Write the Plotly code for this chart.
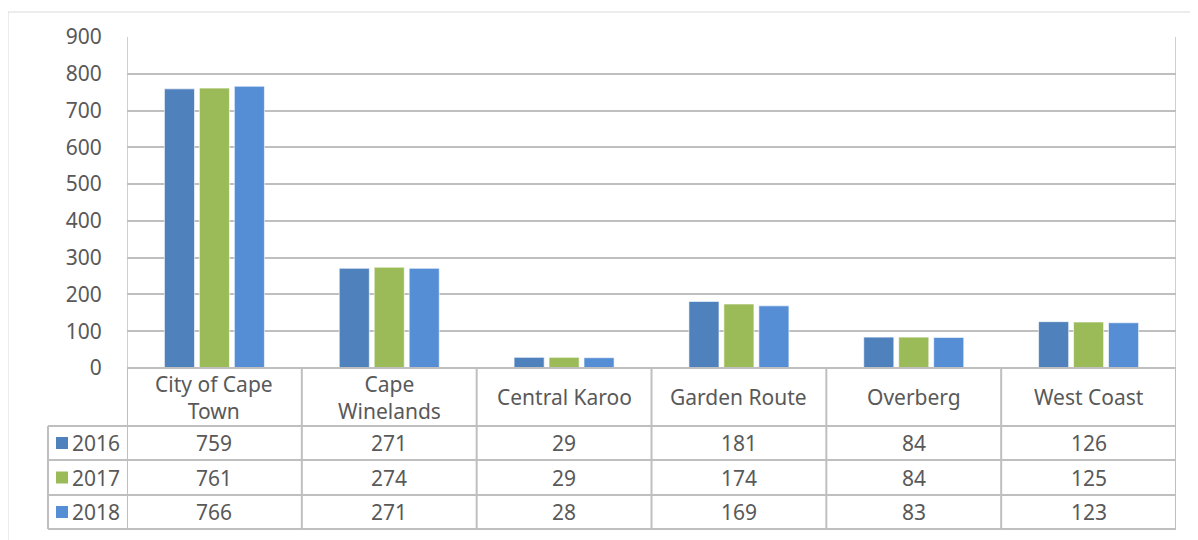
import plotly.graph_objects as go

regions = ["City of Cape Town", "Cape Winelands", "Central Karoo", "Garden Route", "Overberg", "West Coast"]
header_text = ["City of Cape<br>Town", "Cape<br>Winelands", "Central Karoo", "Garden Route", "Overberg", "West Coast"]
years = ["2016", "2017", "2018"]
v2016 = [759, 271, 29, 181, 84, 126]
v2017 = [761, 274, 29, 174, 84, 125]
v2018 = [766, 271, 28, 169, 83, 123]
y_ticks = [0, 100, 200, 300, 400, 500, 600, 700, 800, 900]

series = [v2016, v2017, v2018]
colors = ["#4F81BD", "#9BBB59", "#558ED5"]
text_color = "#595959"
grid = "#BFBFBF"
font = "Noto Sans"
fsize = 21

# window pixel layout (page body adds an 8px offset)
W, H, O = 1198, 540, 8
L, R, T, B = 127, 1176, 37, 368


def px(x):
    return (x - L) / (R - L)


def py(y):
    return (B - y) / (B - T)


fig = go.Figure()
for name, vals, col in zip(years, series, colors):
    fig.add_trace(go.Bar(name=name, x=regions, y=vals,
                         marker=dict(color=col, line=dict(color="rgba(255,255,255,0.6)", width=1)),
                         hovertemplate="%{x}: %{y}<extra>" + name + "</extra>"))

shapes = []
ann = []

# outer chart border
shapes.append(dict(type="rect", xref="paper", yref="paper", x0=px(8), x1=px(1240), y0=py(600), y1=py(12),
                   line=dict(color="#D9D9D9", width=1), layer="below"))
# plot area side borders
for xb in [-0.5, len(regions) - 0.5]:
    shapes.append(dict(type="line", xref="x", yref="paper", x0=xb, x1=xb, y0=0, y1=1,
                       line=dict(color=grid, width=1.5)))

# table horizontal lines
row_lines = [368, 426, 460, 495, 529]
for i, yl in enumerate(row_lines):
    x0 = 0 if i == 0 else px(48)
    shapes.append(dict(type="line", xref="paper", yref="paper", x0=x0, x1=1, y0=py(yl), y1=py(yl),
                       line=dict(color=grid, width=2)))
# table vertical lines
for j in range(len(regions) + 1):
    shapes.append(dict(type="line", xref="x", yref="paper", x0=j - 0.5, x1=j - 0.5, y0=py(368), y1=py(529),
                       line=dict(color=grid, width=2)))
shapes.append(dict(type="line", xref="paper", yref="paper", x0=px(48), x1=px(48), y0=py(426), y1=py(529),
                   line=dict(color=grid, width=2)))

# header labels
for r, h in zip(regions, header_text):
    ann.append(dict(x=r, xref="x", y=py(397), yref="paper", text=h, showarrow=False,
                    font=dict(family=font, size=fsize, color=text_color), yanchor="middle"))

# value rows with legend keys
row_centers = [443, 477.5, 512]
for name, vals, col, yc in zip(years, series, colors, row_centers):
    shapes.append(dict(type="rect", xref="paper", yref="paper", x0=px(56), x1=px(68), y0=py(yc + 6), y1=py(yc - 6),
                       fillcolor=col, line=dict(width=0)))
    ann.append(dict(x=px(70), xref="paper", y=py(yc), yref="paper", text=name, showarrow=False,
                    xanchor="left", yanchor="middle", font=dict(family=font, size=fsize, color=text_color)))
    for r, v in zip(regions, vals):
        ann.append(dict(x=r, xref="x", y=py(yc), yref="paper", text=str(v), showarrow=False,
                        yanchor="middle", font=dict(family=font, size=fsize, color=text_color)))

fig.update_layout(
    width=W, height=H,
    margin=dict(l=L - O, r=W + O - R, t=T - O, b=H + O - B),
    paper_bgcolor="white", plot_bgcolor="white",
    barmode="group", bargap=0.4, bargroupgap=0.14,
    showlegend=False,
    font=dict(family=font, size=fsize, color=text_color),
    xaxis=dict(range=[-0.5, len(regions) - 0.5], showticklabels=False, showgrid=False, zeroline=False),
    yaxis=dict(range=[0, 900], tickvals=y_ticks, gridcolor=grid, gridwidth=1.5, zeroline=False,
               ticks="outside", ticklen=20, tickcolor="rgba(0,0,0,0)",
               tickfont=dict(family=font, size=fsize, color=text_color)),
    shapes=shapes, annotations=ann,
)

fig.write_html("out.html")
